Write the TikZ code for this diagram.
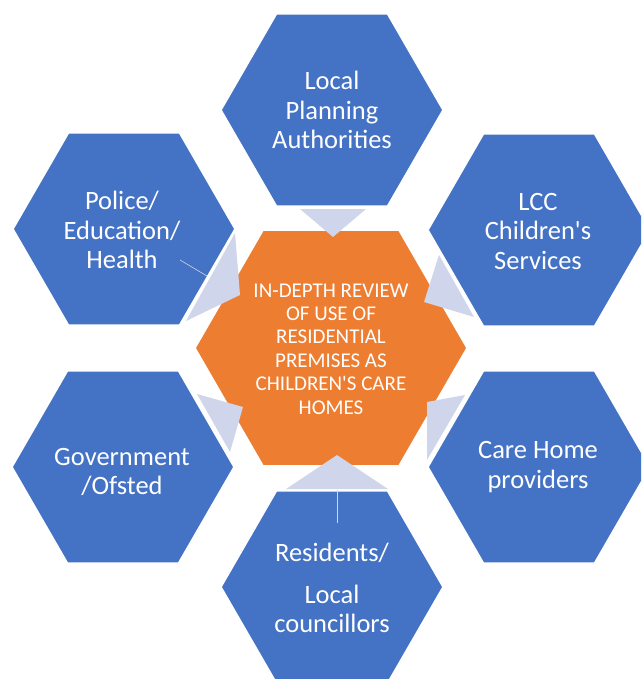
\documentclass[tikz,border=0pt]{standalone}
\usepackage{fontspec}
\setmainfont{Carlito}
\definecolor{hexblue}{HTML}{4472C4}
\definecolor{hexorange}{HTML}{ED7D31}
\definecolor{arrowfill}{HTML}{CFD5EA}
\tikzset{
  outerhex/.style={fill=hexblue, draw=white, line width=1.5pt},
  centerhex/.style={fill=hexorange, draw=white, line width=1.5pt},
  pointer/.style={fill=arrowfill},
  outertext/.style={text=white, align=center, inner sep=0pt, font=\fontsize{26.5}{29.5}\selectfont},
  centertext/.style={text=white, align=center, inner sep=0pt, font=\fontsize{21}{23.4}\selectfont},
  strayline/.style={draw=arrowfill, line width=0.6pt}
}
\newcommand\hexpath[4]{\path[#4] (#1+#3,#2) -- ++(120:#3) -- ++(180:#3) -- ++(240:#3) -- ++(300:#3) -- ++(0:#3) -- cycle;}
\begin{document}
\begin{tikzpicture}[x=1pt,y=-1pt]
\useasboundingbox (0,0) rectangle (641,679);
\clip (0,0) rectangle (641,679);
% centre
\hexpath{331}{348}{136}{centerhex}
% pointers
\fill[pointer] (300,209) -- (366,209) -- (333,237) -- cycle;
\fill[pointer] (286,489) -- (388,489) -- (337,455) -- cycle;
\fill[pointer] (235,233) -- (186,321) -- (240,295) -- cycle;
\fill[pointer] (439,255) -- (474,317) -- (424,302) -- cycle;
\fill[pointer] (465,395) -- (427,460) -- (427,402) -- cycle;
\fill[pointer] (197,394) -- (230,452) -- (243,407) -- cycle;
% outer hexagons
\hexpath{332}{110}{111}{outerhex}
\hexpath{332}{587}{111}{outerhex}
\hexpath{124}{229}{111}{outerhex}
\hexpath{539}{230}{111}{outerhex}
\hexpath{123}{467}{111}{outerhex}
\hexpath{539}{467}{111}{outerhex}
% stray lines
\path[strayline] (337,490) -- (337,523);
\path[strayline] (180,260) -- (207,276);
% texts
\node[centertext] (review) at (331,349) {IN-DEPTH REVIEW\\OF USE OF\\RESIDENTIAL\\PREMISES AS\\CHILDREN\textquotesingle S CARE\\HOMES};
\node[outertext] (lpa) at (332,110) {Local\\Planning\\Authorities};
\node[outertext] (lcc) at (538,231) {LCC\\Children\textquotesingle s\\Services};
\node[outertext] (care) at (538,467) {Care Home\\providers};
\node[outertext] (res) at (332,588) {Residents/\\[12pt]Local\\councillors};
\node[outertext] (gov) at (122,472) {Government\\/Ofsted};
\node[outertext] (pol) at (122,230) {Police/\\Education/\\Health};
\end{tikzpicture}
\end{document}
